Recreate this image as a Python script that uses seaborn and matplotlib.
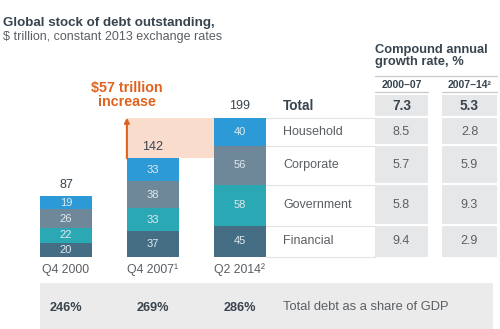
import matplotlib
matplotlib.use("Agg")
import matplotlib.pyplot as plt
import seaborn as sns
import numpy as np
from matplotlib.patches import Rectangle

# ---- data -------------------------------------------------------------
periods = ["Q4 2000", "Q4 2007¹", "Q2 2014²"]
financial = [20, 37, 45]
government = [22, 33, 58]
corporate = [26, 38, 56]
household = [19, 33, 40]
totals = [87, 142, 199]
gdp_share = ["246%", "269%", "286%"]
increase = 57

sectors = ["Household", "Corporate", "Government", "Financial"]
cagr_2000_07 = [8.5, 5.7, 5.8, 9.4]
cagr_2007_14 = [2.8, 5.9, 9.3, 2.9]
total_cagr = [7.3, 5.3]
cagr_periods = ["2000–07", "2007–14²"]

# ---- style ------------------------------------------------------------
sns.set_theme(style="white")
plt.rcParams["font.family"] = ["Liberation Sans", "DejaVu Sans"]

C_HOUSE = "#2b9ad6"
C_CORP = "#6e8899"
C_GOV = "#2aa8b3"
C_FIN = "#456e84"
C_ORANGE = "#e0621f"
C_PINK = "#fadccd"
C_DARK = "#38444e"
C_TEXT = "#5a5f63"
C_GRAY = "#e6e7e8"
C_BAND = "#ebebeb"
C_LABEL_IN = "#dfe9ef"

W, H = 500, 329
fig = plt.figure(figsize=(W / 100, H / 100), dpi=100)
fig.patch.set_facecolor("white")
ax = fig.add_axes([0, 0, 1, 1])

# pixel layout -> data coordinates (categories 87 px apart, 0.70 px per $ trillion)
X0, DX, BASE, SY = 66, 87, 257, 0.70


def dx(px):
    return (px - X0) / DX


def dy(py):
    return (BASE - py) / SY


# ---- stacked bars (cumulative layers drawn from top down) --------------
stack = np.array([financial, government, corporate, household], dtype=float)
cum = np.cumsum(stack, axis=0)
layer_colors = [C_FIN, C_GOV, C_CORP, C_HOUSE]
for i in range(3, -1, -1):
    sns.barplot(x=periods, y=cum[i], color=layer_colors[i], width=0.6,
                saturation=1, linewidth=0, ax=ax, zorder=3)

ax.set_xlim(dx(0), dx(W))
ax.set_ylim(dy(H), dy(0))
ax.axis("off")

# segment values
for j in range(3):
    lower = 0
    for i in range(4):
        v = stack[i, j]
        ax.text(j, lower + v / 2, f"{int(v)}", ha="center", va="center",
                fontsize=8, color=C_LABEL_IN, zorder=5)
        lower += v

# totals above bars
for j in range(3):
    ax.text(j, cum[3, j] + 16, f"{totals[j]}", ha="center", va="center",
            fontsize=9, color=C_DARK, zorder=5)

# category labels
for j in range(3):
    ax.text(j, dy(270), periods[j], ha="center", va="center",
            fontsize=8.8, color=C_TEXT)

# increase band and arrow
ax.add_patch(Rectangle((0.7, cum[3, 1]), 1.0, cum[3, 2] - cum[3, 1],
                       facecolor=C_PINK, edgecolor="none", zorder=1))
ax.annotate("", xy=(0.7, cum[3, 2]), xytext=(0.7, cum[3, 1]),
            arrowprops=dict(arrowstyle="-|>", color=C_ORANGE, lw=1.5,
                            mutation_scale=7, shrinkA=0, shrinkB=0),
            zorder=4)
ax.text(0.7, dy(95), f"${increase} trillion\nincrease", ha="center",
        va="center", fontsize=10.3, fontweight="bold", color=C_ORANGE,
        linespacing=0.95)

# ---- growth-rate table ---------------------------------------------------
lab_x0, lab_x1 = 2.3, dx(375)
col_x = [(dx(375), dx(428)), (dx(442), dx(497))]
total_top, total_bot = dy(95), cum[3, 2] + 1.5
bounds = [cum[3, 2], cum[2, 2], cum[1, 2], cum[0, 2], 0]
row_centers = [(bounds[k] + bounds[k + 1]) / 2 for k in range(4)]
total_center = (total_top + total_bot) / 2

for (x0, x1) in col_x:
    ax.add_patch(Rectangle((x0, 0), x1 - x0, total_top, facecolor=C_GRAY,
                           edgecolor="none", zorder=1))
    for b in bounds[:-1]:
        ax.plot([x0, x1], [b + 0.6, b + 0.6], color="white", lw=1.6, zorder=2)

for b in bounds:
    ax.plot([lab_x0, lab_x1], [b, b], color="#e3e3e3", lw=0.8, zorder=2)

ax.text(dx(283), total_center, "Total", ha="left", va="center",
        fontsize=9.8, fontweight="bold", color=C_DARK)
for k, name in enumerate(sectors):
    ax.text(dx(283), row_centers[k], name, ha="left", va="center",
            fontsize=9, color=C_TEXT)

for c, (x0, x1) in enumerate(col_x):
    xc = (x0 + x1) / 2
    ax.text(xc, total_center, f"{total_cagr[c]:.1f}", ha="center",
            va="center", fontsize=9.8, fontweight="bold", color=C_DARK)
    vals = cagr_2000_07 if c == 0 else cagr_2007_14
    for k, v in enumerate(vals):
        ax.text(xc, row_centers[k], f"{v:.1f}", ha="center", va="center",
                fontsize=9, color=C_TEXT)
    ax.text(xc, dy(85), cagr_periods[c], ha="center", va="center",
            fontsize=7.5, fontweight="bold", color=C_DARK)
    ax.plot([x0, x1], [dy(92.5), dy(92.5)], color="#c9c9c9", lw=0.9)

ax.text(dx(375), dy(56), "Compound annual\ngrowth rate, %", ha="left",
        va="center", fontsize=9.3, fontweight="bold", color=C_DARK,
        linespacing=0.95)
ax.plot([dx(375), dx(497)], [dy(75.5), dy(75.5)], color="#c9c9c9", lw=0.9)

# ---- debt-to-GDP band -----------------------------------------------------
ax.add_patch(Rectangle((dx(40), dy(H)), dx(493) - dx(40), dy(283) - dy(H),
                       facecolor=C_BAND, edgecolor="none", zorder=0))
for j in range(3):
    ax.text(j, dy(308), gdp_share[j], ha="center", va="center",
            fontsize=9.1, fontweight="bold", color=C_DARK)
ax.text(dx(283), dy(307), "Total debt as a share of GDP", ha="left",
        va="center", fontsize=9.3, color=C_TEXT)

# ---- title --------------------------------------------------------------
ax.text(dx(3), dy(23), "Global stock of debt outstanding,", ha="left",
        va="center", fontsize=9.6, fontweight="bold", color=C_DARK)
ax.text(dx(3), dy(37.5), "$ trillion, constant 2013 exchange rates",
        ha="left", va="center", fontsize=9, color=C_TEXT)

fig.savefig("out.png", dpi=100, facecolor="white")
